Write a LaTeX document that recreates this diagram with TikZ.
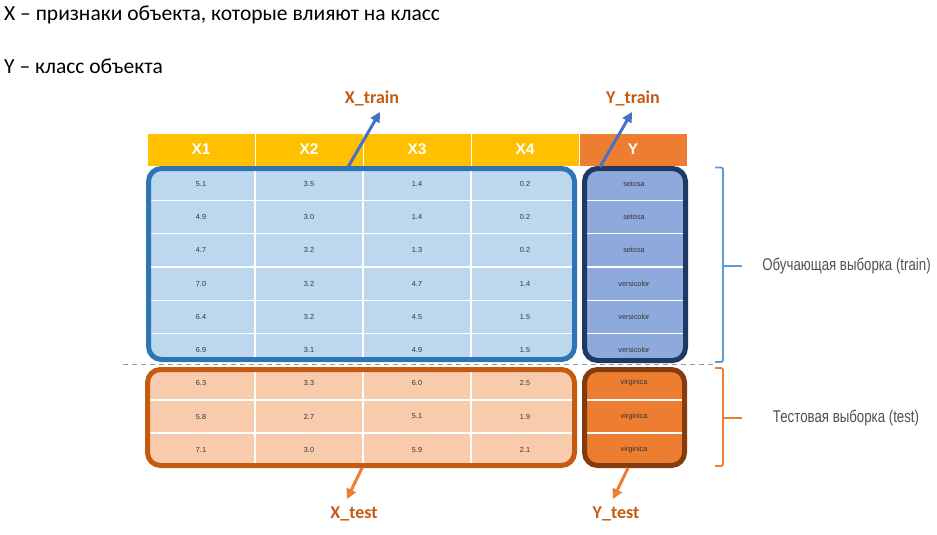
\documentclass[tikz,border=0pt]{standalone}
\usepackage{fontspec}
\setmainfont{Carlito}
\newfontfamily\arialf{Liberation Sans}
\newfontfamily\narrowf[FakeStretch=0.78]{Liberation Sans}
\usetikzlibrary{arrows.meta}
\definecolor{gold}{HTML}{FFC000}
\definecolor{orng}{HTML}{ED7D31}
\definecolor{lblue}{HTML}{BDD7EE}
\definecolor{mblue}{HTML}{8EA9DB}
\definecolor{lorng}{HTML}{F8CBAD}
\definecolor{boxblue}{HTML}{2E75B6}
\definecolor{navy}{HTML}{1F3864}
\definecolor{brownbox}{HTML}{C55A11}
\definecolor{dbrown}{HTML}{843C0C}
\definecolor{arrblue}{HTML}{4472C4}
\definecolor{lbltxt}{HTML}{C55A11}
\definecolor{brblue}{HTML}{5B9BD5}
\definecolor{celltxt}{HTML}{333333}
\definecolor{sidetxt}{HTML}{505050}
\tikzset{
  toptext/.style={anchor=west, inner sep=0pt, font=\fontsize{21.5}{24}\selectfont},
  hdr/.style={draw=white, line width=1pt, minimum width=108pt, minimum height=33pt, inner sep=0pt,
    text=white, font=\arialf\bfseries\fontsize{15.5}{17}\selectfont},
  cell/.style={inner sep=0pt, text=celltxt, font=\arialf\fontsize{7.3}{8}\selectfont},
  grid/.style={white, line width=1.2pt},
  bigbox/.style={line width=5pt, rounded corners=13pt},
  arrlbl/.style={inner sep=0pt, text=lbltxt, font=\bfseries\fontsize{18}{20}\selectfont},
  arr/.style={line width=3pt, -{Triangle[length=10pt,width=10pt]}},
  brace/.style={line width=1.8pt, rounded corners=2pt},
  sidelbl/.style={inner sep=0pt, text=sidetxt, font=\narrowf\fontsize{17}{19}\selectfont},
}
\begin{document}
\begin{tikzpicture}[x=1pt,y=-1pt]
\useasboundingbox (0,0) rectangle (937,535);
% top text
\node[toptext] (t1) at (4,15) {X – признаки объекта, которые влияют на класс};
\node[toptext] (t2) at (4,66) {Y – класс объекта};
% header
\foreach \i in {1,...,4} {
  \node[hdr, fill=gold] (h\i) at ({147+108*(\i-1)+54},149.5) {X\i};
}
\node[hdr, fill=orng] (hY) at (633,149.5) {Y};
% dashed separator
\draw[gray!80, line width=0.9pt, dash pattern=on 5pt off 4pt] (123,364) -- (716,364);
% fills
\fill[lblue, rounded corners=13pt] (148.5,168.5) rectangle (574.5,359.5);
\fill[mblue, rounded corners=13pt] (584.5,168.5) rectangle (685.5,360.5);
\fill[lorng, rounded corners=13pt] (147.5,369.5) rectangle (574.5,465.5);
\fill[orng, rounded corners=13pt] (584.5,369.5) rectangle (684.5,465.5);
% grid
\foreach \x in {255,363,471} {
  \draw[grid] (\x,168) -- (\x,360);
  \draw[grid] (\x,369) -- (\x,466);
}
\foreach \y in {200.6,233.8,267,300.2,333.4} {
  \draw[grid] (148,\y) -- (575,\y);
  \draw[grid] (584,\y) -- (686,\y);
}
\foreach \y in {400,433} {
  \draw[grid] (147,\y) -- (575,\y);
  \draw[grid] (584,\y) -- (685,\y);
}
% cell texts
\foreach \r/\a/\b/\c/\d/\e in {0/5.1/3.5/1.4/0.2/setosa, 1/4.9/3.0/1.4/0.2/setosa, 2/4.7/3.2/1.3/0.2/setosa,
  3/7.0/3.2/4.7/1.4/versicolor, 4/6.4/3.2/4.5/1.5/versicolor, 5/6.9/3.1/4.9/1.5/versicolor} {
  \node[cell] (tr\r a) at (201,{184+33.2*\r}) {\a};
  \node[cell] (tr\r b) at (309,{184+33.2*\r}) {\b};
  \node[cell] (tr\r c) at (417,{184+33.2*\r}) {\c};
  \node[cell] (tr\r d) at (525,{184+33.2*\r}) {\d};
  \node[cell] (tr\r e) at (634,{184+33.2*\r}) {\e};
}
\foreach \r/\a/\b/\c/\d/\e in {0/6.3/3.3/6.0/2.5/virginica, 1/5.8/2.7/5.1/1.9/virginica, 2/7.1/3.0/5.9/2.1/virginica} {
  \node[cell] (te\r a) at (201,{383+33.5*\r}) {\a};
  \node[cell] (te\r b) at (309,{383+33.5*\r}) {\b};
  \node[cell] (te\r c) at (417,{383+33.5*\r}) {\c};
  \node[cell] (te\r d) at (525,{383+33.5*\r}) {\d};
  \node[cell] (te\r e) at (634,{383+33.5*\r}) {\e};
}
% big boxes
\draw[bigbox, boxblue] (148.5,168.5) rectangle (574.5,359.5);
\draw[bigbox, navy] (584.5,168.5) rectangle (685.5,360.5);
\draw[bigbox, brownbox] (147.5,369.5) rectangle (574.5,465.5);
\draw[bigbox, dbrown] (584.5,369.5) rectangle (684.5,465.5);
% arrow labels
\node[arrlbl] (xtrL) at (372,98) {X\_train};
\node[arrlbl] (ytrL) at (633,98) {Y\_train};
\node[arrlbl] (xteL) at (354,514) {X\_test};
\node[arrlbl] (yteL) at (616,514) {Y\_test};
% arrows
\coordinate (xtrS) at (348,167);
\coordinate (xtrT) at (380,112);
\coordinate (ytrS) at (600,167);
\coordinate (ytrT) at (632,112);
\coordinate (xteS) at (362,468);
\coordinate (xteT) at (347,499);
\coordinate (yteS) at (628,468);
\coordinate (yteT) at (613,499);
\draw[arr, arrblue] (xtrS) -- (xtrT);
\draw[arr, arrblue] (ytrS) -- (ytrT);
\draw[arr, orng] (xteS) -- (xteT);
\draw[arr, orng] (yteS) -- (yteT);
% braces
\draw[brace, brblue] (715,167.5) -- (723,167.5) -- (723,362) -- (715,362);
\draw[brace, brblue] (723,266) -- (742,266);
\draw[brace, orng] (715,368) -- (723,368) -- (723,466) -- (715,466);
\draw[brace, orng] (723,418) -- (742,418);
% side labels
\node[sidelbl] (trainL) at (846.5,266) {Обучающая выборка (train)};
\node[sidelbl] (testL) at (846,418) {Тестовая выборка (test)};
\end{tikzpicture}
\end{document}
